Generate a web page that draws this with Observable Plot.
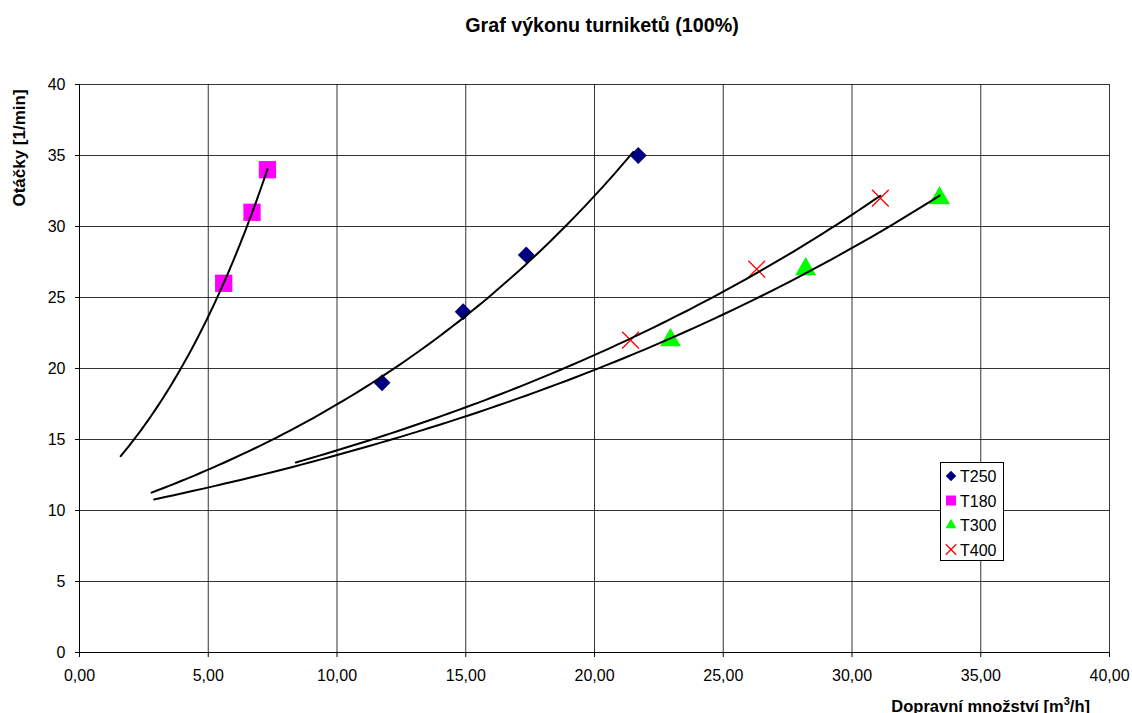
<!DOCTYPE html>
<html>
<head>
<meta charset="utf-8">
<script src="https://cdn.jsdelivr.net/npm/d3@7"></script>
<script src="https://cdn.jsdelivr.net/npm/@observablehq/plot@0.6"></script>
<style>
  html, body { margin: 0; padding: 0; background: #fff; }
  #wrap { position: relative; width: 1132px; height: 713px; overflow: hidden; font-family: "Liberation Sans", Arial, sans-serif; }
  #title { position: absolute; left: 0; width: 1204px; top: 14px; text-align: center; font-weight: bold; font-size: 19.7px; }
  #ylab { position: absolute; left: 20px; top: 148px; transform: translate(-50%, -50%) rotate(-90deg); font-weight: bold; font-size: 17px; white-space: nowrap; }
  #xlab { position: absolute; right: 42px; top: 695px; font-weight: bold; font-size: 16.5px; white-space: nowrap; }
  #legend { position: absolute; left: 940px; top: 462px; width: 64px; height: 99px; border: 1px solid #000; background: #fff; box-sizing: border-box; }
</style>
</head>
<body>
<div id="wrap">
  <div id="chart"></div>
  <div id="title">Graf výkonu turniketů (100%)</div>
  <div id="ylab">Otáčky [1/min]</div>
  <div id="xlab">Dopravní množství [m<sup style="font-size:11px">3</sup>/h]</div>
  <div id="legend"></div>
</div>
<script>
// Data
const seriesNames = ["T250", "T180", "T300", "T400"];
const t250x = [11.75, 14.9, 17.35, 21.7];
const t250y = [19, 24, 28, 35];
const t180x = [5.6, 6.7, 7.3];
const t180y = [26, 31, 34];
const t300x = [22.95, 28.2, 33.4];
const t300y = [22, 27, 32];
const t400x = [21.4, 26.3, 31.1];
const t400y = [22, 27, 32];
// Exponential trendline x-extents
const trendStart = [2.8, 1.6, 2.9, 8.4];
const trendEnd = [21.5, 7.3, 33.4, 31.1];
const xTicks = [0, 5, 10, 15, 20, 25, 30, 35, 40];
const yTicks = [0, 5, 10, 15, 20, 25, 30, 35, 40];

const colors = {T250: "#000080", T180: "#FF00FF", T300: "#00FF00", T400: "#FF0000"};
const symbols = {T250: "diamond2", T180: "square2", T300: "triangle2", T400: "times"};
const radii = {T250: 7.6, T180: 11, T300: 10, T400: 7.7};

const xs = [t250x, t180x, t300x, t400x];
const ys = [t250y, t180y, t300y, t400y];

const points = [];
seriesNames.forEach((s, i) => xs[i].forEach((x, j) => points.push({series: s, x, y: ys[i][j]})));

// Exponential least-squares fit (like a spreadsheet exponential trendline)
function expFit(x, y) {
  const n = x.length;
  const ly = y.map(Math.log);
  const mx = d3.mean(x), my = d3.mean(ly);
  let sxy = 0, sxx = 0;
  for (let i = 0; i < n; i++) { sxy += (x[i] - mx) * (ly[i] - my); sxx += (x[i] - mx) ** 2; }
  const b = sxy / sxx;
  const a = Math.exp(my - b * mx);
  return v => a * Math.exp(b * v);
}
const trend = [];
seriesNames.forEach((s, i) => {
  const f = expFit(xs[i], ys[i]);
  const steps = 80;
  for (let k = 0; k <= steps; k++) {
    const x = trendStart[i] + (trendEnd[i] - trendStart[i]) * k / steps;
    trend.push({series: s, x, y: f(x)});
  }
});

const fmt = v => v.toFixed(2).replace(".", ",");

const chart = Plot.plot({
  width: 1132,
  height: 713,
  marginLeft: 79,
  marginRight: 23,
  marginTop: 84,
  marginBottom: 61,
  style: {fontFamily: "'Liberation Sans', Arial, sans-serif", fontSize: "16px", color: "#000", background: "#fff"},
  x: {domain: [0, 40], ticks: xTicks, tickFormat: fmt, label: null},
  y: {domain: [0, 40], ticks: yTicks, label: null},
  symbol: {type: "identity"},
  r: {type: "identity"},
  marks: [
    Plot.gridX(xTicks, {stroke: "#111", strokeOpacity: 0.85, strokeWidth: 1}),
    Plot.gridY(yTicks, {stroke: "#111", strokeOpacity: 0.85, strokeWidth: 1}),
    Plot.axisX(xTicks, {tickFormat: fmt, tickSize: 5, tickPadding: 12, fontSize: 16, stroke: "#000"}),
    Plot.axisY(yTicks, {tickSize: 4, tickPadding: 10, fontSize: 16, stroke: "#000"}),
    Plot.ruleX([0], {stroke: "#000"}),
    Plot.ruleY([0], {stroke: "#000"}),
    Plot.dot(points.filter(d => d.series !== "T400"), {
      x: "x", y: "y",
      symbol: d => symbols[d.series],
      r: d => radii[d.series],
      fill: d => colors[d.series],
      stroke: "none"
    }),
    Plot.dot(points.filter(d => d.series === "T400"), {
      x: "x", y: "y", symbol: "times", r: 7.7, stroke: "#FF0000", strokeWidth: 1.3, fill: "none"
    }),
    Plot.line(trend, {x: "x", y: "y", z: "series", stroke: "#000", strokeWidth: 2, curve: "linear"})
  ]
});
document.getElementById("chart").appendChild(chart);

// Legend
const leg = d3.select("#legend").append("svg").attr("width", 62).attr("height", 97)
  .style("font-family", "'Liberation Sans', Arial, sans-serif");
seriesNames.forEach((s, i) => {
  const cy = 13 + i * 24.5;
  const g = leg.append("g").attr("transform", `translate(10,${cy})`);
  const typ = {T250: d3.symbolDiamond2, T180: d3.symbolSquare2, T300: d3.symbolTriangle2, T400: d3.symbolTimes}[s];
  const sz = {T250: 70, T180: 127, T300: 85, T400: 75}[s];
  const p = g.append("path").attr("d", d3.symbol(typ, sz)());
  if (s === "T400") p.attr("fill", "none").attr("stroke", colors[s]).attr("stroke-width", 1.3);
  else p.attr("fill", colors[s]);
  leg.append("text").attr("x", 19).attr("y", cy + 6).attr("font-size", 16).text(s);
});
</script>
</body>
</html>
